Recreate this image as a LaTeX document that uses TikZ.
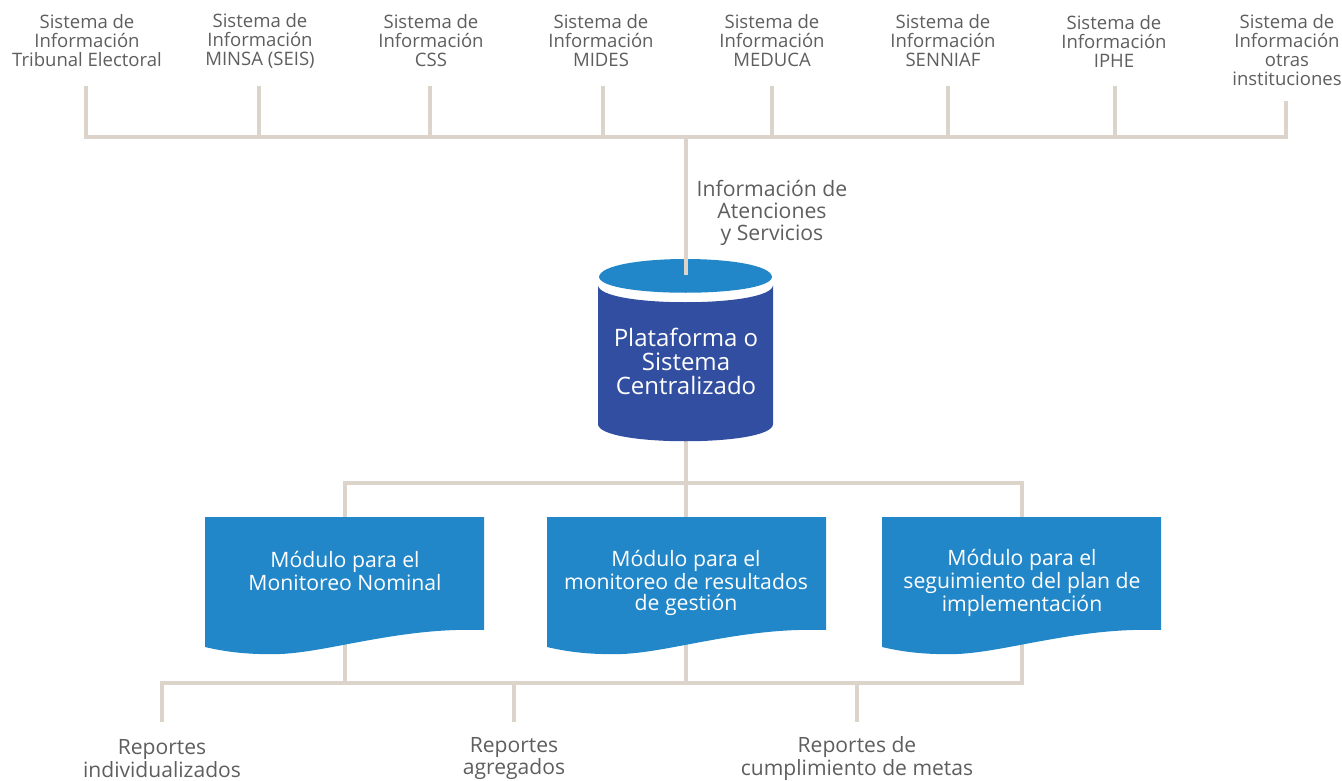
\documentclass[tikz,border=0pt]{standalone}
\usepackage{fontspec}
\setmainfont{Open Sans}
\definecolor{linec}{HTML}{DCD3CB}
\definecolor{txtc}{HTML}{5E5E5E}
\definecolor{lblue}{HTML}{2287C8}
\definecolor{dblue}{HTML}{324EA0}
\begin{document}
\begin{tikzpicture}[x=0.75pt,y=-0.75pt,
  conn/.style={draw=linec,line width=3.6pt},
  toplbl/.style={text=txtc,align=center,inner sep=0pt,font=\fontsize{13.9pt}{14.25pt}\selectfont},
  midlbl/.style={text=txtc,align=center,inner sep=0pt,font=\fontsize{15.9pt}{16.5pt}\selectfont},
  cyltxt/.style={text=white,align=center,inner sep=0pt,font=\fontsize{18pt}{18pt}\selectfont},
  doctxt/.style={text=white,align=center,inner sep=0pt,font=\fontsize{15.9pt}{15.75pt}\selectfont},
  botlbl/.style={text=txtc,align=center,inner sep=0pt,font=\fontsize{15.8pt}{15.75pt}\selectfont}]
\useasboundingbox (0,0) rectangle (1342,781);

% top labels
\node[toplbl] (s1) at (87,41) {Sistema de\\Información\\Tribunal Electoral};
\node[toplbl] (s2) at (260,41) {Sistema de\\Información\\MINSA (SEIS)};
\node[toplbl] (s3) at (431,41) {Sistema de\\Información\\CSS};
\node[toplbl] (s4) at (601,41) {Sistema de\\Información\\MIDES};
\node[toplbl] (s5) at (772,41) {Sistema de\\Información\\MEDUCA};
\node[toplbl] (s6) at (943,41) {Sistema de\\Información\\SENNIAF};
\node[toplbl] (s7) at (1114,41) {Sistema de\\Información\\IPHE};
\node[toplbl] (s8) at (1287,50.5) {Sistema de\\Información\\otras\\instituciones};

% top connectors
\coordinate (t1) at (86,86);   \coordinate (b1) at (86,137);
\coordinate (t2) at (259,86);  \coordinate (b2) at (259,137);
\coordinate (t3) at (430,86);  \coordinate (b3) at (430,137);
\coordinate (t4) at (603,86);  \coordinate (b4) at (603,137);
\coordinate (t5) at (772,86);  \coordinate (b5) at (772,137);
\coordinate (t6) at (948,86);  \coordinate (b6) at (948,137);
\coordinate (t7) at (1115,86); \coordinate (b7) at (1115,137);
\coordinate (t8) at (1286,101);\coordinate (b8) at (1286,137);
\coordinate (bc) at (686,137);
\coordinate (cyltop) at (686,275);
\draw[conn] (t1) -- (b1) -- (b8) -- (t8);
\foreach \i in {2,...,7} {\draw[conn] (t\i) -- (b\i);}

\node[midlbl] (info) at (772,213) {Información de\\Atenciones\\y Servicios};

% middle connectors (cylinder to documents)
\coordinate (cylbot) at (686,430);
\coordinate (m0) at (686,483);
\coordinate (m1) at (345,483);
\coordinate (m3) at (1022,483);
\coordinate (dt1) at (345,520);
\coordinate (dt2) at (686,520);
\coordinate (dt3) at (1022,520);
\draw[conn] (cylbot) -- (m0);
\draw[conn] (dt1) -- (m1) -- (m3) -- (dt3);
\draw[conn] (m0) -- (dt2);

% bottom connectors
\coordinate (db1) at (345,640);
\coordinate (db2) at (686,640);
\coordinate (db3) at (1022,630);
\coordinate (n1) at (345,683);
\coordinate (n2) at (686,683);
\coordinate (n3) at (1022,683);
\coordinate (r1) at (162,683);
\coordinate (r2) at (514,683);
\coordinate (r3) at (857,683);
\coordinate (e1) at (162,722);
\coordinate (e2) at (514,722);
\coordinate (e3) at (857,722);
\draw[conn] (db1) -- (n1);
\draw[conn] (db2) -- (n2);
\draw[conn] (e1) -- (r1) -- (n3) -- (db3);
\draw[conn] (r2) -- (e2);
\draw[conn] (r3) -- (e3);

% cylinder
\fill[dblue] (598,285) .. controls (598,308) and (773,308) .. (773,285) -- (773,424)
  .. controls (773,447) and (598,447) .. (598,424) -- cycle;
\fill[lblue] (599,277) .. controls (601,253) and (770,253) .. (772,277)
  .. controls (770,298) and (601,298) .. cycle;
\draw[conn] (bc) -- (cyltop);
\node[cyltxt] (plat) at (686,361) {Plataforma o\\Sistema\\Centralizado};

% documents
\foreach \dx in {0,342,677} {
  \fill[lblue, shift={(\dx,0)}] (205,517) -- (484,517) -- (484,630)
    .. controls (400,627) and (330,652) .. (280,654)
    .. controls (245,655) and (222,651) .. (205,647) -- cycle;
}
\node[doctxt] (d1) at (345,571) {Módulo para el\\Monitoreo Nominal};
\node[doctxt] (d2) at (686,583) {Módulo para el\\monitoreo de resultados\\de gestión};
\node[doctxt] (d3) at (1022,583) {Módulo para el\\seguimiento del plan de\\implementación};

% bottom labels
\node[botlbl] (rep1) at (162,758.5) {Reportes\\individualizados};
\node[botlbl] (rep2) at (514,758.5) {Reportes\\agregados};
\node[botlbl] (rep3) at (857,758.5) {Reportes de\\cumplimiento de metas};
\end{tikzpicture}
\end{document}
